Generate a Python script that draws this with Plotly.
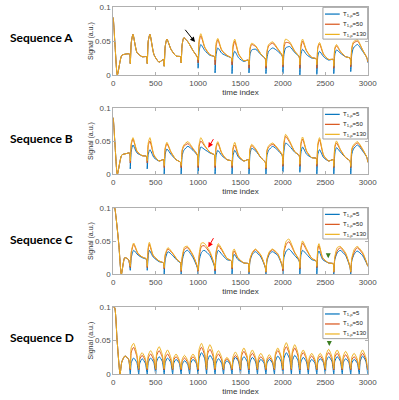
import plotly.graph_objects as go
from plotly.subplots import make_subplots

# ---------------- data ----------------
t_AB = [0, 20, 48, 100, 150, 192,
        200, 212, 232, 280, 340, 392,
        400, 412, 432, 480, 540, 592,
        600, 612, 632, 680, 740, 792,
        800, 812, 832, 880, 940, 992,
        1000, 1012, 1032, 1080, 1140, 1192,
        1200, 1212, 1232, 1280, 1340, 1392,
        1400, 1412, 1432, 1480, 1540, 1592,
        1600, 1612, 1632, 1680, 1740, 1792,
        1800, 1812, 1832, 1880, 1940, 1992,
        2000, 2012, 2032, 2080, 2140, 2192,
        2200, 2212, 2232, 2280, 2340, 2392,
        2400, 2412, 2432, 2480, 2540, 2592,
        2600, 2612, 2632, 2680, 2740, 2792,
        2800, 2812, 2832, 2880, 2940, 2992,
        3000]

A_5 = [0.085, 0.045, 0.0, 0.029, 0.031, 0.031,
       0.017, 0.048, 0.060, 0.033, 0.027, 0.027,
       0.017, 0.050, 0.060, 0.030, 0.019, 0.023,
       0.013, 0.042, 0.053, 0.038, 0.028, 0.027,
       0.018, 0.045, 0.055, 0.049, 0.036, 0.026,
       0.010, 0.035, 0.045, 0.036, 0.029, 0.027,
       0.003, 0.030, 0.040, 0.032, 0.028, 0.025,
       0.002, 0.028, 0.035, 0.025, 0.020, 0.022,
       0.003, 0.030, 0.037, 0.038, 0.030, 0.024,
       0.002, 0.025, 0.035, 0.040, 0.035, 0.028,
       0.002, 0.030, 0.040, 0.042, 0.033, 0.027,
       0.000, 0.030, 0.038, 0.030, 0.025, 0.024,
       0.001, 0.028, 0.035, 0.027, 0.022, 0.023,
       0.002, 0.030, 0.037, 0.032, 0.027, 0.025,
       0.005, 0.030, 0.040, 0.045, 0.035, 0.025,
       0.018]
A_50 = [0.085, 0.045, 0.0, 0.029, 0.031, 0.031,
        0.017, 0.048, 0.060, 0.033, 0.027, 0.027,
        0.017, 0.050, 0.060, 0.030, 0.019, 0.023,
        0.013, 0.042, 0.053, 0.038, 0.028, 0.027,
        0.018, 0.045, 0.055, 0.049, 0.036, 0.026,
        0.018, 0.048, 0.058, 0.040, 0.030, 0.027,
        0.015, 0.042, 0.052, 0.036, 0.029, 0.025,
        0.015, 0.040, 0.050, 0.030, 0.021, 0.022,
        0.010, 0.038, 0.045, 0.042, 0.031, 0.024,
        0.010, 0.033, 0.043, 0.047, 0.038, 0.029,
        0.012, 0.040, 0.048, 0.047, 0.035, 0.027,
        0.010, 0.040, 0.050, 0.035, 0.026, 0.024,
        0.010, 0.040, 0.046, 0.030, 0.023, 0.023,
        0.010, 0.038, 0.043, 0.034, 0.027, 0.025,
        0.012, 0.038, 0.047, 0.050, 0.037, 0.025,
        0.019]
A_130 = [0.085, 0.045, 0.0, 0.029, 0.031, 0.031,
         0.017, 0.048, 0.060, 0.033, 0.027, 0.027,
         0.017, 0.050, 0.060, 0.030, 0.019, 0.023,
         0.013, 0.042, 0.053, 0.038, 0.028, 0.027,
         0.018, 0.045, 0.055, 0.049, 0.036, 0.026,
         0.022, 0.052, 0.061, 0.041, 0.030, 0.027,
         0.022, 0.047, 0.054, 0.037, 0.029, 0.025,
         0.020, 0.045, 0.053, 0.031, 0.021, 0.022,
         0.015, 0.040, 0.047, 0.043, 0.031, 0.024,
         0.013, 0.035, 0.045, 0.049, 0.039, 0.029,
         0.015, 0.045, 0.053, 0.049, 0.035, 0.027,
         0.015, 0.045, 0.053, 0.036, 0.026, 0.024,
         0.015, 0.042, 0.048, 0.031, 0.023, 0.023,
         0.013, 0.040, 0.045, 0.035, 0.027, 0.025,
         0.015, 0.040, 0.049, 0.052, 0.037, 0.025,
         0.020]

B_5 = [0.085, 0.045, 0.0, 0.029, 0.031, 0.032,
       0.008, 0.035, 0.044, 0.032, 0.028, 0.027,
       0.008, 0.030, 0.037, 0.025, 0.020, 0.022,
       0.000, 0.030, 0.038, 0.030, 0.022, 0.018,
       0.000, 0.028, 0.036, 0.042, 0.036, 0.028,
       0.000, 0.030, 0.041, 0.037, 0.032, 0.029,
       0.000, 0.028, 0.036, 0.028, 0.022, 0.020,
       0.000, 0.028, 0.036, 0.025, 0.020, 0.022,
       0.000, 0.030, 0.039, 0.035, 0.025, 0.018,
       0.000, 0.028, 0.036, 0.042, 0.036, 0.028,
       0.003, 0.035, 0.047, 0.042, 0.033, 0.028,
       0.003, 0.032, 0.041, 0.030, 0.025, 0.024,
       0.000, 0.030, 0.037, 0.025, 0.020, 0.022,
       0.000, 0.030, 0.040, 0.033, 0.025, 0.020,
       0.000, 0.030, 0.038, 0.044, 0.035, 0.025,
       0.018]
B_50 = [0.085, 0.045, 0.0, 0.029, 0.031, 0.032,
        0.017, 0.045, 0.053, 0.034, 0.028, 0.027,
        0.017, 0.043, 0.050, 0.028, 0.020, 0.022,
        0.010, 0.038, 0.046, 0.033, 0.022, 0.018,
        0.010, 0.035, 0.042, 0.046, 0.038, 0.029,
        0.010, 0.042, 0.050, 0.042, 0.033, 0.029,
        0.010, 0.040, 0.047, 0.031, 0.022, 0.020,
        0.010, 0.038, 0.044, 0.027, 0.020, 0.022,
        0.008, 0.037, 0.043, 0.037, 0.025, 0.018,
        0.008, 0.035, 0.041, 0.045, 0.038, 0.029,
        0.012, 0.045, 0.057, 0.048, 0.034, 0.028,
        0.012, 0.044, 0.053, 0.034, 0.025, 0.024,
        0.012, 0.043, 0.052, 0.028, 0.020, 0.022,
        0.010, 0.040, 0.047, 0.036, 0.025, 0.020,
        0.010, 0.036, 0.042, 0.047, 0.037, 0.025,
        0.018]
B_130 = [0.085, 0.045, 0.0, 0.029, 0.031, 0.032,
         0.020, 0.047, 0.055, 0.035, 0.028, 0.027,
         0.020, 0.047, 0.055, 0.029, 0.020, 0.022,
         0.013, 0.040, 0.048, 0.034, 0.022, 0.018,
         0.013, 0.037, 0.044, 0.049, 0.039, 0.029,
         0.013, 0.045, 0.055, 0.043, 0.033, 0.029,
         0.013, 0.042, 0.049, 0.032, 0.022, 0.020,
         0.013, 0.040, 0.048, 0.028, 0.020, 0.022,
         0.010, 0.038, 0.045, 0.038, 0.025, 0.018,
         0.010, 0.036, 0.043, 0.047, 0.039, 0.029,
         0.015, 0.048, 0.060, 0.050, 0.034, 0.028,
         0.015, 0.047, 0.056, 0.035, 0.025, 0.024,
         0.015, 0.046, 0.055, 0.029, 0.020, 0.022,
         0.012, 0.042, 0.050, 0.037, 0.025, 0.020,
         0.012, 0.038, 0.044, 0.049, 0.038, 0.025,
         0.018]

t_C = [0, 15, 30, 65, 95, 135, 180,
       200, 212, 240, 290, 340, 392,
       400, 412, 425, 470, 540, 592,
       600, 612, 645, 700, 760, 792,
       800, 812, 840, 875, 940, 990,
       1000, 1012, 1040, 1070, 1140, 1192,
       1200, 1212, 1238, 1280, 1340, 1392,
       1400, 1412, 1425, 1470, 1540, 1592,
       1600, 1612, 1640, 1675, 1740, 1792,
       1800, 1812, 1840, 1875, 1940, 1992,
       2000, 2012, 2040, 2070, 2140, 2192,
       2200, 2212, 2232, 2280, 2340, 2392,
       2400, 2412, 2425, 2470, 2540, 2592,
       2600, 2612, 2640, 2675, 2740, 2792,
       2800, 2812, 2840, 2875, 2940, 2992,
       3000]
C_5 = [0.100, 0.100, 0.088, 0.045, 0.0, 0.025, 0.022,
       0.006, 0.025, 0.036, 0.029, 0.025, 0.022,
       0.006, 0.028, 0.036, 0.026, 0.019, 0.017,
       0.000, 0.022, 0.034, 0.028, 0.020, 0.017,
       0.000, 0.020, 0.033, 0.036, 0.025, 0.010,
       0.000, 0.020, 0.033, 0.036, 0.028, 0.012,
       0.000, 0.025, 0.036, 0.030, 0.022, 0.020,
       0.000, 0.025, 0.030, 0.022, 0.017, 0.016,
       0.000, 0.020, 0.030, 0.034, 0.026, 0.010,
       0.000, 0.020, 0.030, 0.034, 0.028, 0.012,
       0.000, 0.025, 0.035, 0.038, 0.028, 0.020,
       0.000, 0.028, 0.036, 0.030, 0.022, 0.020,
       0.000, 0.030, 0.035, 0.022, 0.017, 0.016,
       0.000, 0.022, 0.032, 0.036, 0.028, 0.010,
       0.000, 0.020, 0.030, 0.035, 0.028, 0.015,
       0.012]
C_50 = [0.100, 0.100, 0.088, 0.045, 0.0, 0.025, 0.022,
        0.010, 0.032, 0.045, 0.031, 0.026, 0.023,
        0.010, 0.038, 0.045, 0.028, 0.020, 0.017,
        0.008, 0.028, 0.038, 0.031, 0.021, 0.018,
        0.004, 0.024, 0.038, 0.040, 0.028, 0.012,
        0.004, 0.026, 0.042, 0.043, 0.032, 0.014,
        0.005, 0.032, 0.043, 0.036, 0.024, 0.020,
        0.008, 0.032, 0.035, 0.024, 0.017, 0.016,
        0.003, 0.022, 0.032, 0.037, 0.028, 0.011,
        0.003, 0.022, 0.032, 0.037, 0.030, 0.013,
        0.005, 0.033, 0.045, 0.049, 0.032, 0.021,
        0.008, 0.038, 0.047, 0.036, 0.024, 0.020,
        0.010, 0.038, 0.043, 0.024, 0.017, 0.016,
        0.003, 0.024, 0.035, 0.040, 0.030, 0.011,
        0.003, 0.022, 0.033, 0.040, 0.031, 0.016,
        0.012]
C_130 = [0.100, 0.100, 0.088, 0.045, 0.0, 0.025, 0.022,
         0.012, 0.034, 0.047, 0.032, 0.026, 0.023,
         0.012, 0.041, 0.048, 0.029, 0.020, 0.017,
         0.010, 0.030, 0.040, 0.032, 0.021, 0.018,
         0.006, 0.026, 0.041, 0.042, 0.029, 0.012,
         0.006, 0.030, 0.047, 0.047, 0.034, 0.014,
         0.008, 0.034, 0.046, 0.038, 0.024, 0.020,
         0.010, 0.035, 0.038, 0.025, 0.017, 0.016,
         0.004, 0.023, 0.033, 0.038, 0.029, 0.011,
         0.004, 0.023, 0.034, 0.038, 0.031, 0.013,
         0.008, 0.035, 0.050, 0.053, 0.033, 0.021,
         0.010, 0.040, 0.050, 0.038, 0.024, 0.020,
         0.012, 0.041, 0.046, 0.025, 0.017, 0.016,
         0.004, 0.026, 0.040, 0.042, 0.032, 0.011,
         0.004, 0.024, 0.037, 0.042, 0.033, 0.016,
         0.012]

t_D = [0, 15, 45, 80, 100, 137, 180,
       200, 212, 240, 278,
       300, 312, 340, 378,
       400, 412, 440, 478,
       500, 512, 540, 578,
       600, 612, 640, 678,
       700, 712, 740, 778,
       800, 812, 840, 878,
       900, 912, 940, 978,
       1000, 1012, 1040, 1078,
       1100, 1112, 1140, 1178,
       1200, 1212, 1240, 1278,
       1300, 1312, 1340, 1378,
       1400, 1412, 1440, 1478,
       1500, 1512, 1540, 1578,
       1600, 1612, 1640, 1678,
       1700, 1712, 1740, 1778,
       1800, 1812, 1840, 1878,
       1900, 1912, 1940, 1978,
       2000, 2012, 2040, 2078,
       2100, 2112, 2140, 2178,
       2200, 2212, 2240, 2278,
       2300, 2312, 2340, 2378,
       2400, 2412, 2440, 2478,
       2500, 2512, 2540, 2578,
       2600, 2612, 2640, 2678,
       2700, 2712, 2740, 2778,
       2800, 2812, 2840, 2878,
       2900, 2912, 2940, 2978,
       3000]
D_5 = [0.100, 0.100, 0.050, 0.0, 0.018, 0.027, 0.022,
       0, 0.017, 0.024, 0.017,
       0, 0.016, 0.023, 0.016,
       0, 0.017, 0.024, 0.017,
       0, 0.019, 0.026, 0.019,
       0, 0.017, 0.024, 0.017,
       0, 0.016, 0.022, 0.016,
       0, 0.014, 0.020, 0.014,
       0, 0.016, 0.022, 0.016,
       0, 0.023, 0.032, 0.023,
       0, 0.020, 0.028, 0.020,
       0, 0.016, 0.023, 0.016,
       0, 0.014, 0.020, 0.014,
       0, 0.018, 0.025, 0.018,
       0, 0.019, 0.026, 0.019,
       0, 0.018, 0.025, 0.018,
       0, 0.016, 0.022, 0.016,
       0, 0.016, 0.022, 0.016,
       0, 0.019, 0.027, 0.019,
       0, 0.023, 0.032, 0.023,
       0, 0.020, 0.028, 0.020,
       0, 0.018, 0.025, 0.018,
       0, 0.016, 0.022, 0.016,
       0, 0.017, 0.023, 0.017,
       0, 0.019, 0.026, 0.019,
       0, 0.019, 0.026, 0.019,
       0, 0.017, 0.023, 0.017,
       0, 0.016, 0.022, 0.016,
       0, 0.019, 0.027, 0.019,
       0.0]
D_50 = [0.100, 0.100, 0.050, 0.0, 0.018, 0.027, 0.022,
        0.006, 0.033, 0.040, 0.026,
        0.006, 0.022, 0.028, 0.020,
        0.006, 0.024, 0.030, 0.021,
        0.006, 0.028, 0.035, 0.025,
        0.006, 0.024, 0.030, 0.021,
        0.006, 0.021, 0.026, 0.019,
        0.006, 0.019, 0.024, 0.017,
        0.006, 0.021, 0.026, 0.019,
        0.006, 0.032, 0.040, 0.028,
        0.006, 0.030, 0.037, 0.026,
        0.006, 0.024, 0.030, 0.021,
        0.006, 0.018, 0.023, 0.016,
        0.006, 0.022, 0.028, 0.020,
        0.006, 0.027, 0.034, 0.024,
        0.006, 0.025, 0.031, 0.022,
        0.006, 0.021, 0.026, 0.019,
        0.006, 0.020, 0.025, 0.018,
        0.006, 0.028, 0.035, 0.025,
        0.006, 0.033, 0.041, 0.029,
        0.006, 0.031, 0.039, 0.027,
        0.006, 0.026, 0.032, 0.022,
        0.006, 0.022, 0.027, 0.019,
        0.006, 0.022, 0.027, 0.019,
        0.006, 0.026, 0.032, 0.022,
        0.006, 0.025, 0.031, 0.022,
        0.006, 0.023, 0.029, 0.020,
        0.006, 0.021, 0.026, 0.019,
        0.006, 0.025, 0.031, 0.022,
        0.006]
D_130 = [0.100, 0.100, 0.050, 0.0, 0.018, 0.027, 0.022,
         0.008, 0.040, 0.046, 0.030,
         0.008, 0.026, 0.032, 0.023,
         0.008, 0.028, 0.035, 0.025,
         0.008, 0.033, 0.041, 0.029,
         0.008, 0.029, 0.036, 0.025,
         0.008, 0.024, 0.030, 0.021,
         0.008, 0.022, 0.028, 0.020,
         0.008, 0.024, 0.030, 0.021,
         0.008, 0.037, 0.046, 0.032,
         0.008, 0.035, 0.044, 0.031,
         0.008, 0.028, 0.035, 0.025,
         0.008, 0.020, 0.025, 0.018,
         0.008, 0.026, 0.033, 0.023,
         0.008, 0.031, 0.039, 0.027,
         0.008, 0.029, 0.036, 0.025,
         0.008, 0.025, 0.031, 0.022,
         0.008, 0.023, 0.029, 0.020,
         0.008, 0.031, 0.039, 0.027,
         0.008, 0.038, 0.047, 0.033,
         0.008, 0.035, 0.044, 0.031,
         0.008, 0.029, 0.036, 0.025,
         0.008, 0.025, 0.031, 0.022,
         0.008, 0.025, 0.031, 0.022,
         0.008, 0.030, 0.037, 0.026,
         0.008, 0.029, 0.036, 0.025,
         0.008, 0.027, 0.034, 0.024,
         0.008, 0.025, 0.031, 0.022,
         0.008, 0.029, 0.036, 0.025,
         0.008]

sequence_names = ["Sequence A", "Sequence B", "Sequence C", "Sequence D"]
legend_labels = ["T<sub>1,ρ</sub>=5", "T<sub>1,ρ</sub>=50", "T<sub>1,ρ</sub>=130"]
x_title = "time index"
y_title = "Signal (a.u.)"
x_ticks = [0, 500, 1000, 1500, 2000, 2500, 3000]
y_ticks = [0, 0.05, 0.1]
y_ticktext = ["0", "0.05", "0.1"]

panels = [
    (t_AB, [A_5, A_50, A_130]),
    (t_AB, [B_5, B_50, B_130]),
    (t_C, [C_5, C_50, C_130]),
    (t_D, [D_5, D_50, D_130]),
]
colors = ["#0072BD", "#D95319", "#EDB120"]

# ---------------- figure ----------------
W, H = 399, 400
fig = make_subplots(rows=4, cols=1)

x_left, x_right = 113.3, 367.7
tops = [7.3, 107.7, 207.7, 307.3]
bottoms = [75.0, 174.3, 274.3, 374.0]

for i, (t, series) in enumerate(panels):
    for s, c in zip(series, colors):
        fig.add_trace(go.Scatter(x=t, y=s, mode="lines",
                                 line=dict(color=c, width=1, shape="spline", smoothing=0.6),
                                 showlegend=False, hoverinfo="skip"), row=i + 1, col=1)

axis_common = dict(showgrid=False, zeroline=False, showline=True, linecolor="#b0b0b0",
                   linewidth=1, mirror="ticks", ticks="inside", ticklen=3, automargin=True,
                   tickcolor="#b0b0b0",
                   tickfont=dict(family="Liberation Sans, Arial", size=8, color="#4d4d4d"))

for i in range(4):
    xa = "xaxis" if i == 0 else f"xaxis{i+1}"
    ya = "yaxis" if i == 0 else f"yaxis{i+1}"
    fig.layout[xa].update(domain=[x_left / W, x_right / W], range=[0, 3000],
                          tickvals=x_ticks, **axis_common,
                          title=dict(text=x_title, standoff=0,
                                     font=dict(family="Liberation Sans, Arial", size=8, color="#333333")))
    fig.layout[ya].update(domain=[1 - bottoms[i] / H, 1 - tops[i] / H], range=[0, 0.1],
                          tickvals=y_ticks, ticktext=y_ticktext, **axis_common,
                          title=dict(text=y_title, standoff=0,
                                     font=dict(family="Liberation Sans, Arial", size=7, color="#333333")))

annotations = []
shapes = []
seq_y = [37, 138, 239, 337]
for i in range(4):
    xr = "x" if i == 0 else f"x{i+1}"
    yr = "y" if i == 0 else f"y{i+1}"
    annotations.append(dict(text="<b>" + sequence_names[i] + "</b>", xref="paper", yref="paper",
                            x=41.5 / W, y=1 - seq_y[i] / H, xanchor="center", yanchor="middle",
                            showarrow=False,
                            font=dict(family="Lato, Open Sans, sans-serif", size=12, color="black")))
    shapes.append(dict(type="rect", xref=f"{xr} domain", yref=f"{yr} domain",
                       x0=0.824, x1=1.0, y0=0.53, y1=1.0,
                       line=dict(color="#a0a0a0", width=1), fillcolor="white", layer="above"))
    for k, (lab, c) in enumerate(zip(legend_labels, colors)):
        yy = [0.90, 0.75, 0.60][k]
        shapes.append(dict(type="line", xref=f"{xr} domain", yref=f"{yr} domain",
                           x0=0.832, x1=0.890, y0=yy, y1=yy,
                           line=dict(color=c, width=1.2), layer="above"))
        annotations.append(dict(text=lab, xref=f"{xr} domain", yref=f"{yr} domain",
                                x=0.897, y=yy, xanchor="left", yanchor="middle", showarrow=False,
                                font=dict(family="Liberation Sans, Arial", size=6, color="#222222")))

arrow_specs = [
    ("x", "y", 963, 0.0487, 834, 0.069, "black"),
    ("x2", "y2", 1120, 0.040, 1191, 0.055, "#FF0000"),
    ("x3", "y3", 1120, 0.0405, 1191, 0.0565, "#FF0000"),
    ("x3", "y3", 2535, 0.024, 2535, 0.0315, "#3C7D22"),
    ("x4", "y4", 2547, 0.042, 2547, 0.047, "#3C7D22"),
]
for xr, yr, x, y, ax, ay, c in arrow_specs:
    annotations.append(dict(x=x, y=y, ax=ax, ay=ay, xref=xr, yref=yr, axref=xr, ayref=yr,
                            showarrow=True, arrowhead=2, arrowsize=1, arrowwidth=1,
                            arrowcolor=c, text=""))

fig.update_layout(width=W, height=H, margin=dict(l=0, r=0, t=0, b=0, autoexpand=False),
                  paper_bgcolor="white", plot_bgcolor="white",
                  annotations=annotations, shapes=shapes, showlegend=False)

fig.write_html("out.html", config={"displayModeBar": False},
               post_script="document.body.style.margin='0';document.body.style.padding='0';")
